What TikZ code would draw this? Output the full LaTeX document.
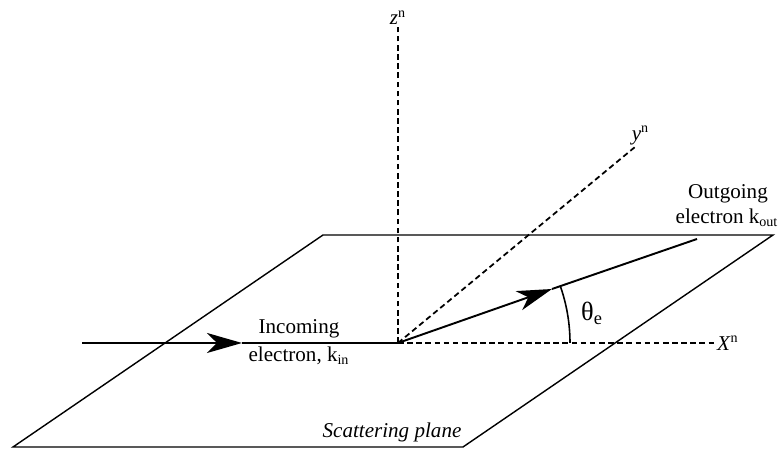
\documentclass[tikz,border=0pt]{standalone}
\usepackage{fontspec}
\setmainfont{Liberation Serif}
\usetikzlibrary{arrows.meta, positioning}
\tikzset{
    plane/.style={draw, line width=0.8pt},
    axis/.style={line width=1pt, dash pattern=on 3.2pt off 2pt},
    beam/.style={line width=1.1pt},
    beamtip/.style={line width=1.1pt, -{Stealth[length=7mm, width=4mm, inset=2mm]}},
    label/.style={font=\fontsize{12}{13}\selectfont, inner sep=1pt},
    every node/.style={font=\fontsize{12}{13}\selectfont}
}

\begin{document}
\begin{tikzpicture}[x=0.02cm,y=0.02cm]
\useasboundingbox (0,0) rectangle (782,455);

% scattering plane
\coordinate (p1) at (13,8);
\coordinate (p2) at (463,8);
\coordinate (p3) at (773,220);
\coordinate (p4) at (323,220);
\draw[plane] (p1) -- (p2) -- (p3) -- (p4) -- cycle;
\node[label, font=\fontsize{12}{13}\selectfont\itshape] (plane) at (392,23) {Scattering plane};

% axes
\coordinate (O) at (398,112);
\coordinate (zend) at (398,428);
\coordinate (yend) at (635,308);
\coordinate (xend) at (715,112);
\draw[axis] (O) -- (zend);
\draw[axis] (O) -- (yend);
\draw[axis] (O) -- (xend);
\node[label, anchor=south] (zlab) at (zend) {\textit{z}\textsuperscript{n}};
\node[label, anchor=south west] (ylab) at ([xshift=-3pt]yend) {\textit{y}\textsuperscript{n}};
\node[label, anchor=west] (xlab) at (xend) {\textit{X}\textsuperscript{n}};

% incoming electron
\coordinate (in) at (82,112);
\coordinate (intip) at (242,112);
\draw[beamtip] (in) -- (intip);
\draw[beam] (intip) -- (O);
\node[label] (inc1) at (299,126) {Incoming};
\node[label] (inc2) at (299,99) {electron, k\textsubscript{in}};

% outgoing electron
\coordinate (outtip) at (552,166);
\coordinate (out) at (697,216);
\draw[beamtip] (O) -- (outtip);
\draw[beam] (outtip) -- (out);
\node[label] (out1) at (728,261) {Outgoing};
\node[label] (out2) at (727,237) {electron k\textsubscript{out}};

% angle
\draw[line width=0.9pt] ([xshift=172*0.02cm]O) arc[start angle=0, end angle=19.2, radius=3.44cm];
\node[label] (theta) at (592,142) {\fontsize{15}{16}\selectfont θ\textsubscript{e}};
\end{tikzpicture}
\end{document}
